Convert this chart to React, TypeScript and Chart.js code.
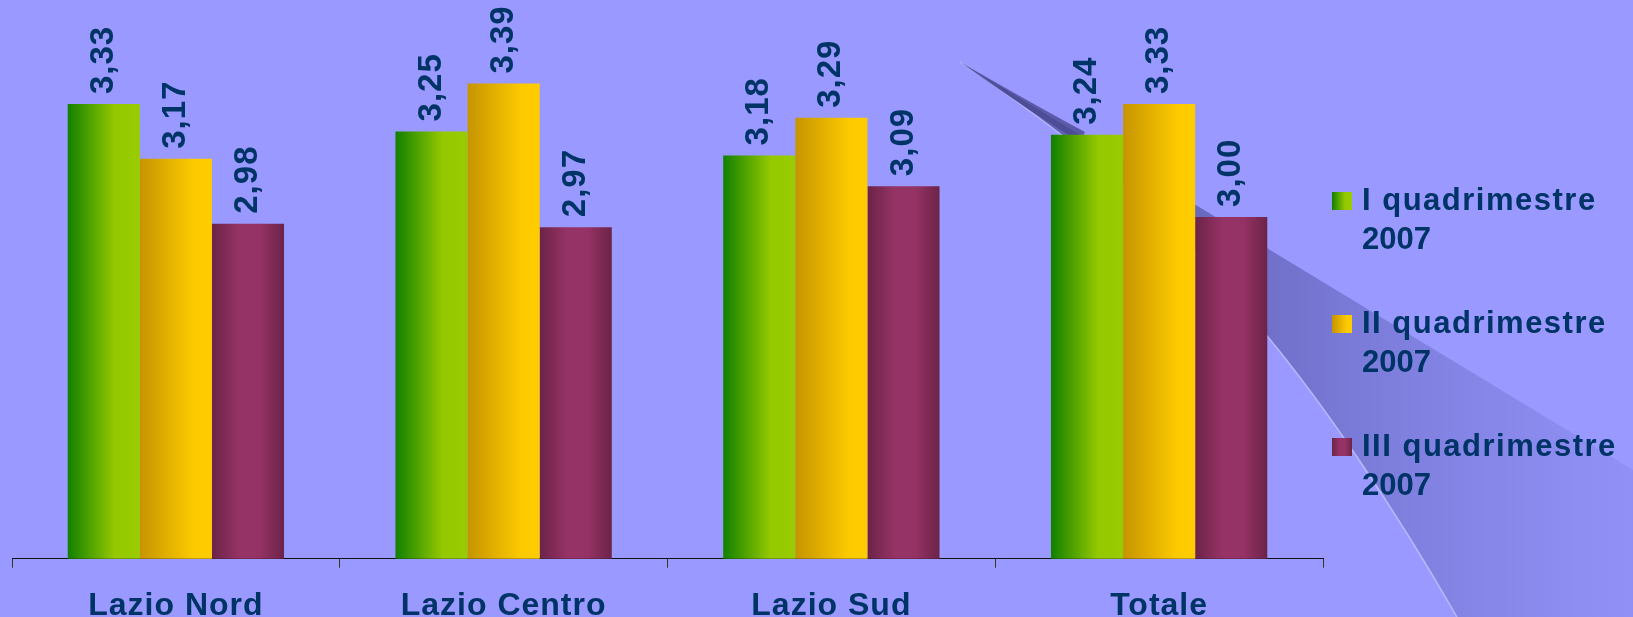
import React, { useEffect, useRef } from "react";
import { Chart, registerables } from "chart.js";

Chart.register(...registerables);

// ---- data ----
const categories = ["Lazio Nord", "Lazio Centro", "Lazio Sud", "Totale"];
const seriesLabels = [
  ["I quadrimestre", "2007"],
  ["II quadrimestre", "2007"],
  ["III quadrimestre", "2007"],
];
const quad1 = [3.33, 3.25, 3.18, 3.24];
const quad2 = [3.17, 3.39, 3.29, 3.33];
const quad3 = [2.98, 2.97, 3.09, 3.0];
const yMin = 2;
const yMax = 3.5;

// ---- styles ----
const BG = "#9999FF";
const TEXT = "#003366";
const FONT = "'Liberation Sans', Arial, sans-serif";
const gradStops: [number, string][][] = [
  [[0, "#118000"], [0.65, "#94c800"], [1, "#99cc00"]],
  [[0, "#c69400"], [0.75, "#fdca00"], [1, "#ffcc00"]],
  [[0, "#6c2348"], [0.38, "#963366"], [0.65, "#963366"], [1, "#6c2348"]],
];
const solid = ["#66aa00", "#e6b400", "#88305c"];

function makeGrad(ctx: CanvasRenderingContext2D, left: number, width: number, i: number) {
  const g = ctx.createLinearGradient(left, 0, left + width, 0);
  gradStops[i].forEach(([o, c]) => g.addColorStop(o, c));
  return g;
}

const decorPlugin = {
  id: "decor",
  beforeDraw(chart: any) {
    const ctx: CanvasRenderingContext2D = chart.ctx;
    ctx.save();
    // decorative swoosh band in the background
    const lower = () => {
      ctx.bezierCurveTo(1390, 500, 1320, 400, 1268, 337);
      ctx.bezierCurveTo(1200, 250, 1120, 170, 960, 62);
    };
    ctx.beginPath();
    ctx.moveTo(960, 62);
    ctx.lineTo(1633, 470);
    ctx.lineTo(1633, 617);
    ctx.lineTo(1457, 617);
    lower();
    ctx.closePath();
    const g = ctx.createLinearGradient(1150, 0, 1633, 0);
    g.addColorStop(0, "rgba(80,80,160,0.75)");
    g.addColorStop(0.35, "rgba(95,95,180,0.6)");
    g.addColorStop(1, "rgba(125,125,225,0.3)");
    ctx.fillStyle = g;
    ctx.fill();
    // light edge
    ctx.beginPath();
    ctx.moveTo(1457, 617);
    lower();
    ctx.strokeStyle = "rgba(195,195,255,0.8)";
    ctx.lineWidth = 1.5;
    ctx.stroke();
    // dark tip streak
    ctx.beginPath();
    ctx.moveTo(960, 62);
    ctx.quadraticCurveTo(1040, 108, 1085, 132);
    ctx.lineTo(1080, 142);
    ctx.quadraticCurveTo(1030, 112, 960, 62);
    ctx.fillStyle = "rgba(70,70,140,0.75)";
    ctx.fill();
    ctx.restore();
    (ctx as any).letterSpacing = "1px";
  },
};

const barGradPlugin = {
  id: "barGrad",
  beforeDatasetsDraw(chart: any) {
    const ctx = chart.ctx;
    chart.data.datasets.forEach((_: any, i: number) => {
      const meta = chart.getDatasetMeta(i);
      meta.data.forEach((el: any) => {
        const { x, width } = el.getProps(["x", "width"], true);
        el.options.backgroundColor = makeGrad(ctx, x - width / 2, width, i);
      });
    });
  },
};

const valueLabelPlugin = {
  id: "valueLabels",
  afterDatasetsDraw(chart: any) {
    const ctx: CanvasRenderingContext2D = chart.ctx;
    chart.data.datasets.forEach((ds: any, i: number) => {
      const meta = chart.getDatasetMeta(i);
      meta.data.forEach((el: any, j: number) => {
        const { x, y } = el.getProps(["x", "y"], true);
        const txt = Number(ds.data[j]).toFixed(2).replace(".", ",");
        ctx.save();
        ctx.translate(x, y - 10);
        ctx.rotate(-Math.PI / 2);
        ctx.font = `bold 33px ${FONT}`;
        (ctx as any).letterSpacing = "1px";
        ctx.fillStyle = TEXT;
        ctx.textAlign = "left";
        ctx.textBaseline = "middle";
        ctx.fillText(txt, 0, 0);
        ctx.restore();
      });
    });
  },
};

const legendPlugin = {
  id: "customLegend",
  afterDraw(chart: any) {
    const ctx: CanvasRenderingContext2D = chart.ctx;
    const sqX = 1332;
    const textX = 1362;
    const baseY = 210;
    const step = 123;
    chart.data.datasets.forEach((ds: any, i: number) => {
      const by = baseY + i * step;
      ctx.save();
      ctx.fillStyle = makeGrad(ctx, sqX, 20, i);
      ctx.fillRect(sqX, by - 18, 20, 18);
      ctx.font = `bold 31px ${FONT}`;
      ctx.fillStyle = TEXT;
      ctx.textAlign = "left";
      ctx.textBaseline = "alphabetic";
      const lines: string[] = ds.legendLines;
      lines.forEach((ln, k) => {
        (ctx as any).letterSpacing = k === 0 ? "1.5px" : "0px";
        ctx.fillText(ln, textX, by + k * 39);
      });
      ctx.restore();
    });
  },
};

export default function App() {
  const ref = useRef<HTMLCanvasElement>(null);
  useEffect(() => {
    if (!ref.current) return;
    const series = [quad1, quad2, quad3];
    const chart = new Chart(ref.current, {
      type: "bar",
      data: {
        labels: categories,
        datasets: series.map((d, i) => ({
          label: seriesLabels[i].join(" "),
          legendLines: seriesLabels[i],
          data: d,
          backgroundColor: () => solid[i],
          borderWidth: 0,
          categoryPercentage: 0.66,
          barPercentage: 1,
        })) as any,
      },
      options: {
        animation: false,
        responsive: false,
        maintainAspectRatio: false,
        layout: { padding: { left: 12, right: 310, top: 46, bottom: -28.5 } },
        plugins: { legend: { display: false }, tooltip: { enabled: false } },
        scales: {
          y: { display: false, min: yMin, max: yMax },
          x: {
            border: { display: true, color: "#111", width: 1 },
            grid: {
              offset: true,
              drawOnChartArea: false,
              drawTicks: true,
              tickLength: 9,
              color: "#333",
            },
            ticks: {
              color: TEXT,
              padding: 24.5,
              font: { family: FONT, size: 32, weight: "bold", lineHeight: 0.9 },
            },
          },
        },
      },
      plugins: [decorPlugin, barGradPlugin, valueLabelPlugin, legendPlugin],
    });
    return () => chart.destroy();
  }, []);
  return (
    <div
      style={{
        position: "fixed",
        left: 0,
        top: 0,
        width: 1633,
        height: 617,
        background: BG,
        overflow: "hidden",
      }}
    >
      <canvas ref={ref} width={1633} height={617} style={{ width: 1633, height: 617, display: "block" }} />
    </div>
  );
}
